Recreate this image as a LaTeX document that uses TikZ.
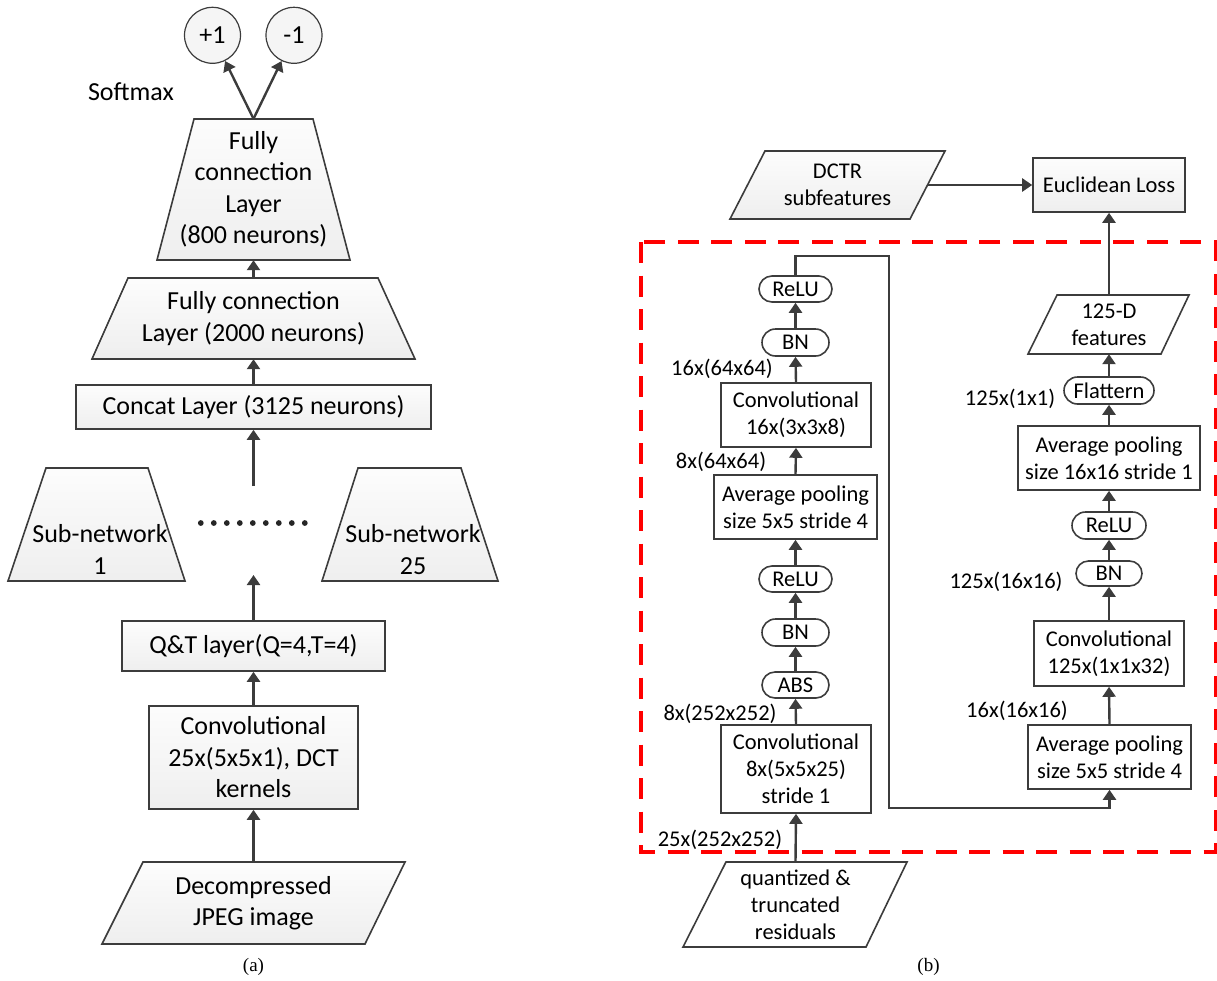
\documentclass[tikz,border=0pt]{standalone}
\usepackage{fontspec}
\setmainfont{Carlito}
\newfontfamily\capfont{Liberation Serif}
\usetikzlibrary{arrows.meta,shapes.misc}
\definecolor{linegray}{HTML}{3C3C3C}
\definecolor{dashred}{HTML}{FF0000}
\begin{document}
\begin{tikzpicture}[x=1pt,y=-1pt,
  Lfont/.style={font=\fontsize{26}{31.5}\selectfont},
  Rfont/.style={font=\fontsize{22.5}{27}\selectfont},
  shapeL/.style={draw=linegray, line width=1.6pt, top color=gray!2, bottom color=gray!13},
  shapeR/.style={draw=linegray, line width=1.6pt, fill=white},
  txtL/.style={Lfont, align=center, inner sep=0pt},
  txtR/.style={Rfont, align=center, inner sep=0pt},
  boxL/.style={shapeL, Lfont, align=center, inner sep=0pt},
  boxR/.style={shapeR, Rfont, align=center, inner sep=0pt},
  pill/.style={boxR, rounded rectangle, rounded rectangle arc length=180},
  arr/.style={draw=linegray, line width=2.4pt, -{Triangle[length=10pt,width=13pt]}},
  lbl/.style={Rfont, inner sep=0pt},
  captext/.style={font=\capfont\fontsize{19}{22}\selectfont, inner sep=0pt}
]
\useasboundingbox (0,0) rectangle (1217,980);

% ================= (a) =================
\node[circle, draw=linegray, line width=1.2pt, fill=gray!8, minimum size=56pt, inner sep=0pt, Lfont] (p1) at (212.5,35.3) {+1};
\node[circle, draw=linegray, line width=1.2pt, fill=gray!8, minimum size=56pt, inner sep=0pt, Lfont] (m1) at (294,35.3) {-1};
\node[txtL] (softmax) at (131,92) {Softmax};

\path[shapeL] (194,119) -- (313,119) -- (350,260) -- (157,260) -- cycle;
\node[txtL, minimum height=141pt] (fc800) at (253.5,189.5) {Fully\\connection\\Layer\\(800 neurons)};

\path[shapeL] (128,278) -- (378,278) -- (415,359) -- (92,359) -- cycle;
\node[txtL, minimum height=81pt] (fc2000) at (253.5,318.5) {Fully connection\\Layer (2000 neurons)};

\node[boxL, minimum width=355pt, minimum height=44pt] (concat) at (253.5,407) {Concat Layer (3125 neurons)};

\path[shapeL] (46,468) -- (148,468) -- (185,581) -- (8,581) -- cycle;
\node[txtL] (sub1) at (100,549.5) {Sub-network\\1};
\path[shapeL] (358,468) -- (461,468) -- (498,581) -- (322,581) -- cycle;
\node[txtL] (sub25) at (413,549.5) {Sub-network\\25};
\foreach \i in {0,...,8} \fill[black!85] (200.8+13*\i,523) circle (2.9pt);
\coordinate (subtop) at (253.5,486);
\coordinate (subbot) at (253.5,575);

\node[boxL, minimum width=263pt, minimum height=50pt] (qt) at (253.5,646) {Q\&T layer(Q=4,T=4)};
\node[boxL, minimum width=209pt, minimum height=103pt] (conv) at (253.5,757.5) {Convolutional\\25x(5x5x1), DCT\\kernels};

\path[shapeL] (143,862) -- (405,862) -- (365,944) -- (102,944) -- cycle;
\node[txtL, minimum height=82pt] (jpeg) at (253.5,903) {Decompressed\\JPEG image};

\draw[arr] (fc800.north) -- (p1);
\draw[arr] (fc800.north) -- (m1);
\draw[arr] (fc2000.north) -- (fc800.south);
\draw[arr] (concat.north) -- (fc2000.south);
\draw[arr] (subtop) -- (concat.south);
\draw[arr] (qt.north) -- (subbot);
\draw[arr] (conv.north) -- (qt.south);
\draw[arr] (jpeg.north) -- (conv.south);

\node[captext] (capa) at (253.5,967) {(a)};

% ================= (b) =================
\draw[dashred, line width=3.3pt, dash pattern=on 21pt off 12.5pt] (641,242) rectangle (1215.5,852);

\path[shapeL] (765,151) -- (945,151) -- (910,219) -- (730,219) -- cycle;
\node[txtR, minimum width=180pt, minimum height=68pt] (dctr) at (837.5,185) {DCTR\\subfeatures};
\node[shapeL, Rfont, inner sep=0pt, minimum width=152pt, minimum height=54pt] (euclid) at (1109,185) {Euclidean Loss};

% left column
\node[pill, minimum width=73pt, minimum height=26pt] (relu1) at (795.5,289) {ReLU};
\node[pill, minimum width=67pt, minimum height=27pt] (bn1) at (795.5,342.5) {BN};
\node[boxR, minimum width=150pt, minimum height=64pt] (conv16) at (796,415) {Convolutional\\16x(3x3x8)};
\node[boxR, minimum width=163pt, minimum height=64pt] (pool1) at (795.5,507) {Average pooling\\size 5x5 stride 4};
\node[pill, minimum width=73pt, minimum height=26pt] (relu2) at (795.5,579) {ReLU};
\node[pill, minimum width=67pt, minimum height=27pt] (bn2) at (795.5,632.5) {BN};
\node[pill, minimum width=67pt, minimum height=26pt] (abs) at (795.5,685) {ABS};
\node[boxR, minimum width=150pt, minimum height=88pt] (conv8) at (796,769) {Convolutional\\8x(5x5x25)\\stride 1};
\path[shapeR] (726,862) -- (907,862) -- (866,947) -- (683,947) -- cycle;
\node[txtR, minimum height=85pt] (resid) at (795.5,904.5) {quantized \&\\truncated\\residuals};

\node[lbl] (l1) at (722,369) {16x(64x64)};
\node[lbl] (l2) at (721,462) {8x(64x64)};
\node[lbl] (l3) at (720,714) {8x(252x252)};
\node[lbl] (l4) at (720,840) {25x(252x252)};

% right column
\path[shapeR] (1057,295) -- (1189,295) -- (1161,354) -- (1028,354) -- cycle;
\node[txtR, minimum height=59pt] (feat) at (1109,324.5) {125-D\\features};
\node[pill, minimum width=90pt, minimum height=27pt] (flat) at (1109,390.5) {Flattern};
\node[boxR, minimum width=182pt, minimum height=64pt] (pool16) at (1109,458) {Average pooling\\size 16x16 stride 1};
\node[pill, minimum width=74pt, minimum height=27pt] (relu3) at (1109,525.5) {ReLU};
\node[pill, minimum width=66pt, minimum height=25pt] (bn3) at (1109,573.5) {BN};
\node[boxR, minimum width=150pt, minimum height=65pt] (conv125) at (1109,653.5) {Convolutional\\125x(1x1x32)};
\node[boxR, minimum width=163pt, minimum height=64pt] (pool2) at (1109.5,757) {Average pooling\\size 5x5 stride 4};

\node[lbl] (l5) at (1010,399) {125x(1x1)};
\node[lbl] (l6) at (1006,582) {125x(16x16)};
\node[lbl] (l7) at (1017,711) {16x(16x16)};

\coordinate (k1) at (889,256);
\coordinate (k2) at (889,808);

\draw[arr] (dctr.east) -- (euclid.west);
\draw[arr] (resid.north) -- (conv8.south);
\draw[arr] (conv8.north) -- (abs.south);
\draw[arr] (abs.north) -- (bn2.south);
\draw[arr] (bn2.north) -- (relu2.south);
\draw[arr] (relu2.north) -- (pool1.south);
\draw[arr] (pool1.north) -- (conv16.south);
\draw[arr] (conv16.north) -- (bn1.south);
\draw[arr] (bn1.north) -- (relu1.south);
\draw[arr] (relu1.north) |- (k1) -- (k2) -| (pool2.south);
\draw[arr] (pool2.north) -- (conv125.south);
\draw[arr] (conv125.north) -- (bn3.south);
\draw[arr] (bn3.north) -- (relu3.south);
\draw[arr] (relu3.north) -- (pool16.south);
\draw[arr] (pool16.north) -- (flat.south);
\draw[arr] (flat.north) -- (feat.south);
\draw[arr] (feat.north) -- (euclid.south);

\node[captext] (capb) at (928.5,967) {(b)};
\end{tikzpicture}
\end{document}
